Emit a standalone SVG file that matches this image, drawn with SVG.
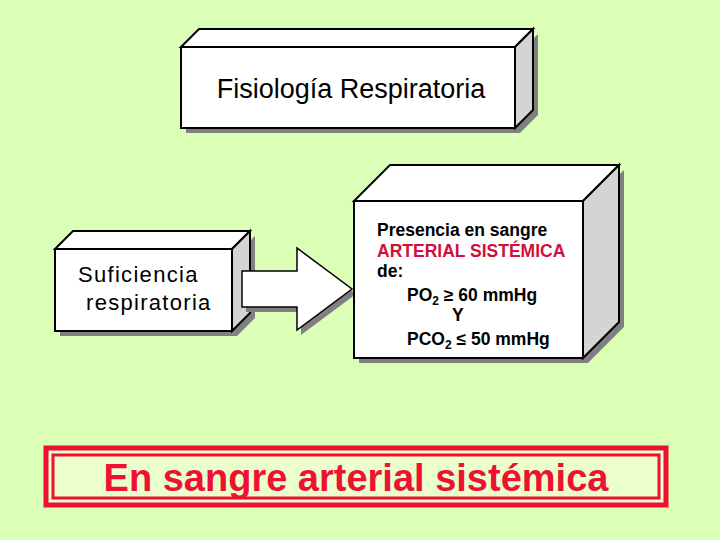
<svg xmlns="http://www.w3.org/2000/svg" width="720" height="540" viewBox="0 0 720 540">
<style>
.f{fill:#fff;stroke:#000;stroke-width:2}
.s{fill:#d4d4d4;stroke:#000;stroke-width:2}
.sh{fill:#808080}
.t{font-family:"Liberation Sans",Arial,sans-serif}
.b{font-weight:bold;font-size:17.5px}
</style>
<rect width="720" height="540" fill="#dcffb8"/>
<g id="fisiologia">
<polygon class="sh" points="186,52 520,52 538,34 538,115 520,133 186,133"/>
<polygon class="f" points="181,47 199,29 533,29 515,47"/>
<polygon class="s" points="515,47 533,29 533,110 515,128"/>
<rect class="f" x="181" y="47" width="334" height="81"/>
<text class="t" x="351" y="98" font-size="27" text-anchor="middle">Fisiología Respiratoria</text>
</g>
<g id="suficiencia">
<polygon class="sh" points="60,254 237,254 255,236 255,318 237,336 60,336"/>
<polygon class="f" points="55,249 73,231 250,231 232,249"/>
<polygon class="s" points="232,249 250,231 250,313 232,331"/>
<rect class="f" x="55" y="249" width="177" height="82"/>
<text class="t" x="78" y="282" font-size="22" letter-spacing="1.3">Suficiencia</text>
<text class="t" x="86" y="310" font-size="22" letter-spacing="1.3">respiratoria</text>
</g>
<g id="connectors">
<polygon class="sh" points="246,276 301,276 301,253 356,294 301,335 301,312 246,312"/>
<polygon points="242,271 297,271 297,248 352,289 297,330 297,307 242,307" fill="#fff" stroke="#000" stroke-width="1.5"/>
</g>
<g id="presencia">
<polygon class="sh" points="359,206 588,206 624,170 624,327 588,363 359,363"/>
<polygon class="f" points="354,201 390,165 619,165 583,201"/>
<polygon class="s" points="583,201 619,165 619,322 583,358"/>
<rect class="f" x="354" y="201" width="229" height="157"/>
<text class="t b" x="377" y="236">Presencia en sangre</text>
<text class="t b" x="377" y="257" fill="#d0103a">ARTERIAL SISTÉMICA</text>
<text class="t b" x="377" y="277">de:</text>
<text class="t b" x="407" y="301">PO<tspan font-size="12" dy="4">2</tspan><tspan dy="-4"> ≥ 60 mmHg</tspan></text>
<text class="t b" x="452" y="321">Y</text>
<text class="t b" x="407" y="345">PCO<tspan font-size="12" dy="4">2</tspan><tspan dy="-4"> ≤ 50 mmHg</tspan></text>
</g>
<g id="conclusion">
<rect x="46" y="448" width="620" height="57" fill="#eaffcc" stroke="#ee1133" stroke-width="5"/>
<rect x="53" y="455" width="606" height="43" fill="none" stroke="#ee1133" stroke-width="3"/>
<text class="t" x="356" y="491" font-size="38" font-weight="bold" fill="#ee1133" text-anchor="middle">En sangre arterial sistémica</text>
</g>
</svg>
